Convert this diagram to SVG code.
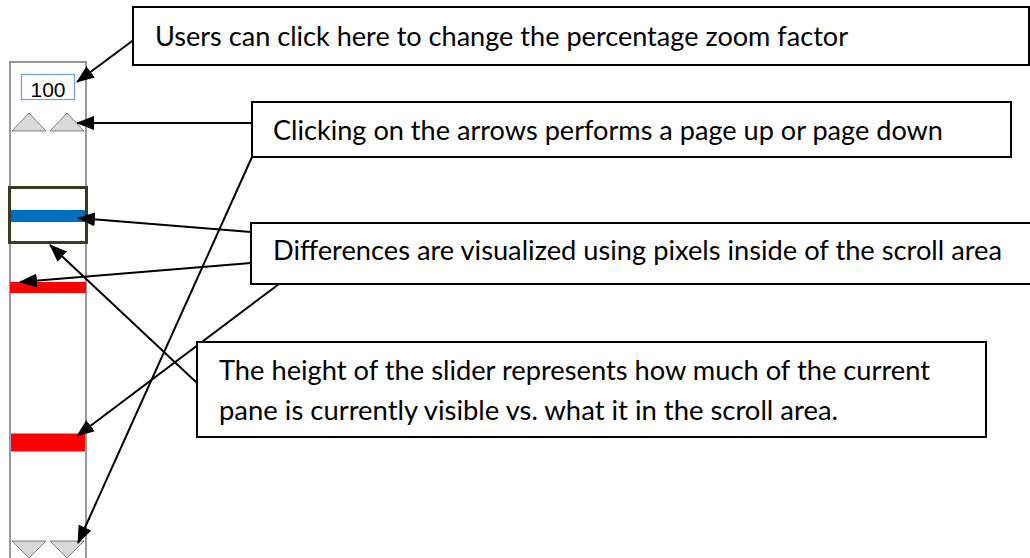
<svg xmlns="http://www.w3.org/2000/svg" width="1030" height="558" viewBox="0 0 1030 558">
<style>
.box{fill:#fff;stroke:#000;stroke-width:2}
.lbl{font-family:Lato,"Open Sans","Liberation Sans",sans-serif;font-size:26px;fill:#000}
.con{stroke:#000;stroke-width:2;fill:none;marker-end:url(#ah)}
.tri{fill:#d9d9d9;stroke:#7f7f7f;stroke-width:1}
</style>
<defs>
<marker id="ah" viewBox="0 0 18 14" refX="17" refY="7" markerWidth="18" markerHeight="14" markerUnits="userSpaceOnUse" orient="auto">
<path d="M0,0 L18,7 L0,14 Z" fill="#000"/>
</marker>
</defs>
<g id="scrollbar">
<rect x="10" y="62" width="76" height="510" fill="#fff" stroke="#7f7f7f" stroke-width="1.6"/>
<g id="zoom-box">
<rect x="21.5" y="74.5" width="53" height="25" fill="#fff" stroke="#6fa0e6" stroke-width="1.2"/>
<text x="48" y="97" text-anchor="middle" font-family="'Liberation Sans',Arial,sans-serif" font-size="21">100</text>
</g>
<g id="up-arrows">
<polygon class="tri" points="12,131 46,131 29,113"/>
<polygon class="tri" points="50,131 84,131 67,113"/>
</g>
<rect id="blue-bar" x="10" y="210" width="76" height="12" fill="#0070c0"/>
<rect id="slider" x="9.5" y="187.5" width="77" height="55" fill="none" stroke="#3b3b20" stroke-width="3"/>
<rect id="red-bar-1" x="10" y="282" width="76" height="11" fill="#ff0000"/>
<rect id="red-bar-2" x="10.5" y="433.5" width="75" height="18" fill="#ff0000" stroke="#8ea9db" stroke-width="1"/>
<g id="down-arrows">
<polygon class="tri" points="12,541 46,541 29,558"/>
<polygon class="tri" points="50,541 84,541 67,558"/>
</g>
</g>
<g id="connectors">
<line class="con" x1="143" y1="33" x2="77" y2="82"/>
<line class="con" x1="252" y1="123" x2="77" y2="123"/>
<line class="con" x1="252" y1="157" x2="78" y2="543"/>
<line class="con" x1="251" y1="232" x2="78" y2="218"/>
<line class="con" x1="251" y1="263" x2="20" y2="282"/>
<line class="con" x1="283" y1="281" x2="77" y2="436"/>
<line class="con" x1="197" y1="383" x2="50" y2="245"/>
</g>
<g id="callout-zoom">
<rect class="box" x="133" y="7" width="896" height="58"/>
<text class="lbl" x="155" y="46" textLength="693" lengthAdjust="spacingAndGlyphs">Users can click here to change the percentage zoom factor</text>
</g>
<g id="callout-arrows">
<rect class="box" x="252" y="102" width="759" height="55"/>
<text class="lbl" x="273" y="140" textLength="670" lengthAdjust="spacingAndGlyphs">Clicking on the arrows performs a page up or page down</text>
</g>
<g id="callout-differences">
<rect class="box" x="251" y="223" width="790" height="61"/>
<text class="lbl" x="273" y="260" textLength="729" lengthAdjust="spacingAndGlyphs">Differences are visualized using pixels inside of the scroll area</text>
</g>
<g id="callout-slider">
<rect class="box" x="197" y="342" width="789" height="95"/>
<text class="lbl" x="219" y="380" textLength="711" lengthAdjust="spacingAndGlyphs">The height of the slider represents how much of the current</text>
<text class="lbl" x="219" y="420" textLength="619" lengthAdjust="spacingAndGlyphs">pane is currently visible vs. what it in the scroll area.</text>
</g>
</svg>
